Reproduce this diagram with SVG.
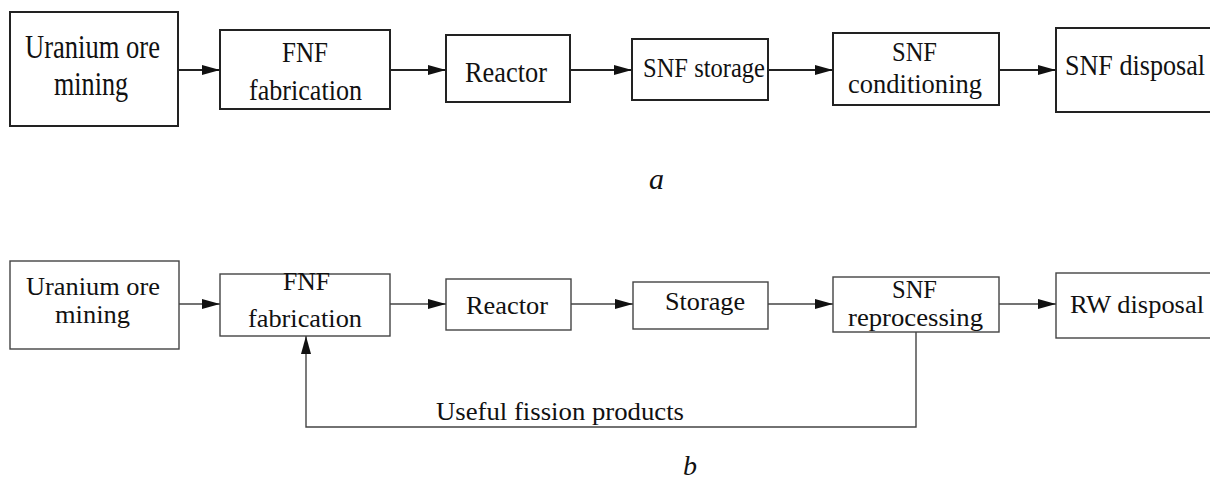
<svg xmlns="http://www.w3.org/2000/svg" width="1210" height="480" viewBox="0 0 1210 480">
<style>
  .bg { fill: #ffffff; }
  .boxA { fill: #ffffff; stroke: #222222; stroke-width: 2; }
  .boxB { fill: #ffffff; stroke: #444444; stroke-width: 1.4; }
  .t { font-family: "Liberation Serif", "Times New Roman", serif; fill: #111111; }
  .lineA { stroke: #222222; stroke-width: 2; fill: none; }
  .lineB { stroke: #444444; stroke-width: 1.4; fill: none; }
  .cap { font-family: "Liberation Serif", "Times New Roman", serif; font-style: italic; fill: #111111; }
</style>
<defs>
  <marker id="arr" markerUnits="userSpaceOnUse" markerWidth="18" markerHeight="10" refX="18" refY="5" orient="auto">
    <path d="M0,0 L18,5 L0,10 z" fill="#111111"/>
  </marker>
</defs>
<rect class="bg" x="0" y="0" width="1210" height="480"/>

<!-- Diagram a -->
<g id="a-uranium">
  <rect class="boxA" x="10" y="12" width="168" height="114"/>
  <text class="t" x="25" y="58" font-size="34" textLength="135" lengthAdjust="spacingAndGlyphs">Uranium ore</text>
  <text class="t" x="54" y="95" font-size="34" textLength="74" lengthAdjust="spacingAndGlyphs">mining</text>
</g>
<g id="a-fnf">
  <rect class="boxA" x="220" y="30" width="170" height="79"/>
  <text class="t" x="282" y="62" font-size="29" textLength="46" lengthAdjust="spacingAndGlyphs">FNF</text>
  <text class="t" x="249" y="100" font-size="29" textLength="113" lengthAdjust="spacingAndGlyphs">fabrication</text>
</g>
<g id="a-reactor">
  <rect class="boxA" x="446" y="35" width="124" height="67"/>
  <text class="t" x="465" y="82" font-size="30" textLength="82" lengthAdjust="spacingAndGlyphs">Reactor</text>
</g>
<g id="a-storage">
  <rect class="boxA" x="632" y="39" width="136" height="61"/>
  <text class="t" x="643" y="77" font-size="28" textLength="122" lengthAdjust="spacingAndGlyphs">SNF storage</text>
</g>
<g id="a-conditioning">
  <rect class="boxA" x="833" y="33" width="166" height="72"/>
  <text class="t" x="892" y="61" font-size="28" textLength="45" lengthAdjust="spacingAndGlyphs">SNF</text>
  <text class="t" x="848" y="93" font-size="28" textLength="134" lengthAdjust="spacingAndGlyphs">conditioning</text>
</g>
<g id="a-disposal">
  <rect class="boxA" x="1056" y="28" width="170" height="84"/>
  <text class="t" x="1065" y="75" font-size="30" textLength="140" lengthAdjust="spacingAndGlyphs">SNF disposal</text>
</g>
<g id="a-connectors">
  <line class="lineA" x1="178" y1="70" x2="220" y2="70" marker-end="url(#arr)"/>
  <line class="lineA" x1="390" y1="70" x2="446" y2="70" marker-end="url(#arr)"/>
  <line class="lineA" x1="570" y1="70" x2="632" y2="70" marker-end="url(#arr)"/>
  <line class="lineA" x1="768" y1="70" x2="833" y2="70" marker-end="url(#arr)"/>
  <line class="lineA" x1="999" y1="70" x2="1056" y2="70" marker-end="url(#arr)"/>
</g>
<text class="cap" x="649" y="189" font-size="30">a</text>

<!-- Diagram b -->
<g id="b-uranium">
  <rect class="boxB" x="10" y="261" width="169" height="88"/>
  <text class="t" x="26" y="295" font-size="26" textLength="134" lengthAdjust="spacingAndGlyphs">Uranium ore</text>
  <text class="t" x="55" y="323" font-size="26" textLength="75" lengthAdjust="spacingAndGlyphs">mining</text>
</g>
<g id="b-fnf">
  <rect class="boxB" x="220" y="274" width="170" height="62"/>
  <text class="t" x="283" y="290" font-size="26" textLength="47" lengthAdjust="spacingAndGlyphs">FNF</text>
  <text class="t" x="248" y="327" font-size="26" textLength="114" lengthAdjust="spacingAndGlyphs">fabrication</text>
</g>
<g id="b-reactor">
  <rect class="boxB" x="446" y="279" width="125" height="51"/>
  <text class="t" x="466" y="314" font-size="26" textLength="82" lengthAdjust="spacingAndGlyphs">Reactor</text>
</g>
<g id="b-storage">
  <rect class="boxB" x="633" y="282" width="135" height="47"/>
  <text class="t" x="665" y="310" font-size="26" textLength="80" lengthAdjust="spacingAndGlyphs">Storage</text>
</g>
<g id="b-reprocessing">
  <rect class="boxB" x="833" y="277" width="166" height="55"/>
  <text class="t" x="892" y="298" font-size="26" textLength="45" lengthAdjust="spacingAndGlyphs">SNF</text>
  <text class="t" x="848" y="326" font-size="26" textLength="135" lengthAdjust="spacingAndGlyphs">reprocessing</text>
</g>
<g id="b-disposal">
  <rect class="boxB" x="1056" y="273" width="170" height="65"/>
  <text class="t" x="1070" y="313" font-size="26" textLength="134" lengthAdjust="spacingAndGlyphs">RW disposal</text>
</g>
<g id="b-connectors">
  <line class="lineB" x1="179" y1="304" x2="220" y2="304" marker-end="url(#arr)"/>
  <line class="lineB" x1="390" y1="304" x2="446" y2="304" marker-end="url(#arr)"/>
  <line class="lineB" x1="571" y1="304" x2="633" y2="304" marker-end="url(#arr)"/>
  <line class="lineB" x1="768" y1="304" x2="833" y2="304" marker-end="url(#arr)"/>
  <line class="lineB" x1="999" y1="304" x2="1056" y2="304" marker-end="url(#arr)"/>
  <polyline class="lineB" points="916,332 916,427 306,427 306,336" marker-end="url(#arr)"/>
  <text class="t" x="436" y="420" font-size="26" textLength="248" lengthAdjust="spacingAndGlyphs">Useful fission products</text>
</g>
<text class="cap" x="683" y="475" font-size="28">b</text>
</svg>
